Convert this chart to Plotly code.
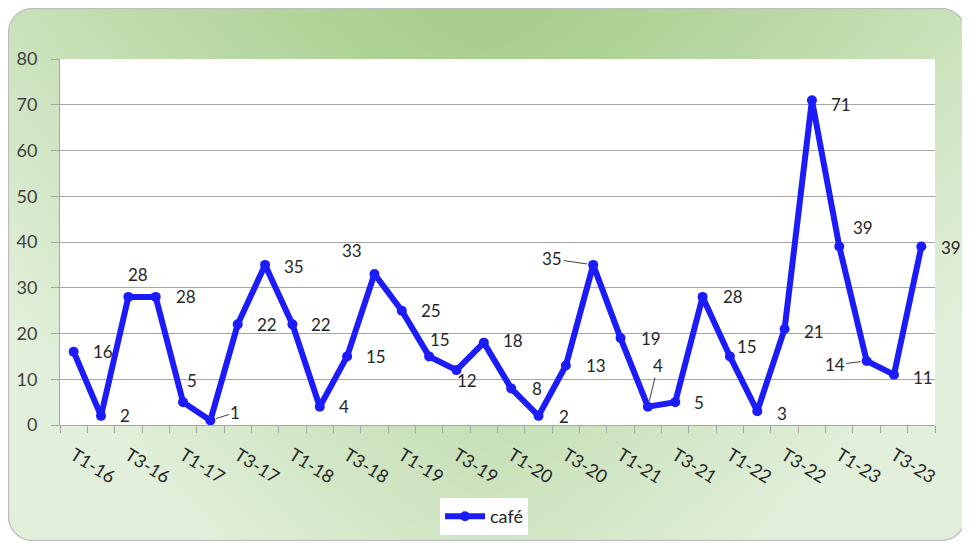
import base64
import struct
import zlib

import numpy as np
import plotly.graph_objects as go

# ---------------- data ----------------
quarters = []
for yr in range(16, 24):
    for q in range(1, 5):
        quarters.append(f"T{q}-{yr}")
categories = quarters  # T1-16 ... T4-23 (32 quarters)

cafe_values = [16, 2, 28, 28, 5, 1, 22, 35, 22, 4, 15, 33, 25, 15, 12, 18,
               8, 2, 13, 35, 19, 4, 5, 28, 15, 3, 21, 71, 39, 14, 11, 39]

tick_labels = [c if i % 2 == 0 else "" for i, c in enumerate(categories)]
series_name = "café"

# label placement (pixel offsets of data labels from their points) and leader-line flags
label_offsets = [(29, 0), (24, 0), (10, -22), (30, 0), (9, -22), (25, -8), (29, 0), (29, 2),
                 (29, 0), (24, 0), (29, 0), (-22, -24), (29, 0), (11, -17), (11, 10), (29, -2),
                 (26, 0), (25, 1), (30, 0), (-41, -6), (30, 0), (10, -41), (24, 0), (30, 0),
                 (17, -10), (25, 2), (29, 3), (29, 4), (24, -19), (-32, 4), (29, 3), (30, 1)]
leader_lines = [False] * 32
for k in (5, 19, 21, 29):
    leader_lines[k] = True

# ---------------- geometry / style ----------------
OFF = 8                      # page body margin of the browser
W, H = 970 - OFF, 543 - OFF  # figure size
ML, MR, MT, MB = 52, 35, 51, 118
FONT = "Lato"
BLUE = "#1c1cfb"
GRID = "#a6a6a6"
TXT = "#404040"
LBL = "#262626"


def background_uri():
    yy, xx = np.mgrid[0:H, 0:W].astype(float)
    X = (xx + OFF) / 970.0
    Y = (yy + OFF) / 543.0
    t = -0.04 + 0.74 * Y + 0.63 * np.abs(2 * X - 1) ** 1.3
    t = np.clip(t, 0, 1)[..., None]
    dark = np.array([168, 207, 141], float)
    light = np.array([226, 240, 219], float)
    rgb = dark + (light - dark) * t
    # white plot area
    inside = ((xx >= ML) & (xx < W - MR) & (yy >= MT) & (yy < H - MB))[..., None]
    rgb = np.where(inside, 255.0, rgb)
    # rounded rectangle signed distance
    x0, y0, x1, y1, r = 0.5, 0.5, 957.5, 532.5, 24.0
    cx, cy = (x0 + x1) / 2, (y0 + y1) / 2
    hx, hy = (x1 - x0) / 2 - r, (y1 - y0) / 2 - r
    qx = np.abs(xx + 0.5 - cx) - hx
    qy = np.abs(yy + 0.5 - cy) - hy
    d = np.sqrt(np.maximum(qx, 0) ** 2 + np.maximum(qy, 0) ** 2) + np.minimum(np.maximum(qx, qy), 0) - r
    fill_a = np.clip(0.5 - d, 0, 1)
    border = np.clip(1.2 - np.abs(d), 0, 1)[..., None]
    bcol = np.array([190, 190, 190], float)
    rgb = rgb * (1 - border) + bcol * border
    alpha = np.maximum(fill_a, border[..., 0])
    rgba = np.dstack([rgb, alpha[..., None] * 255]).clip(0, 255).astype(np.uint8)
    raw = b"".join(b"\x00" + rgba[i].tobytes() for i in range(H))

    def chunk(tag, data):
        return struct.pack(">I", len(data)) + tag + data + struct.pack(">I", zlib.crc32(tag + data) & 0xFFFFFFFF)

    png = (b"\x89PNG\r\n\x1a\n"
           + chunk(b"IHDR", struct.pack(">IIBBBBB", W, H, 8, 6, 0, 0, 0))
           + chunk(b"IDAT", zlib.compress(raw, 9))
           + chunk(b"IEND", b""))
    return "data:image/png;base64," + base64.b64encode(png).decode()


fig = go.Figure()
fig.add_trace(go.Scatter(
    x=categories, y=cafe_values, mode="lines+markers", name=series_name,
    line=dict(color=BLUE, width=6), marker=dict(color=BLUE, size=10),
    cliponaxis=False,
))

annotations = []
for i, (c, v) in enumerate(zip(categories, cafe_values)):
    dx, dy = label_offsets[i]
    annotations.append(dict(
        x=c, y=v, xref="x", yref="y", text=str(v), showarrow=True,
        ax=dx, ay=dy, arrowhead=0, arrowwidth=1,
        arrowcolor=TXT if leader_lines[i] else "rgba(0,0,0,0)",
        standoff=6 if leader_lines[i] else 0,
        font=dict(family=FONT, size=17, color=LBL),
    ))

fig.update_layout(
    width=W, height=H, autosize=False,
    margin=dict(l=ML, r=MR, t=MT, b=MB, pad=0, autoexpand=False),
    paper_bgcolor="rgba(0,0,0,0)", plot_bgcolor="white",
    font=dict(family=FONT, size=17, color=TXT),
    showlegend=True,
    legend=dict(orientation="h", xref="container", yref="container",
                x=432 / W, y=1 - 490 / H,
                xanchor="left", yanchor="top", bgcolor="white",
                font=dict(family=FONT, size=18, color=LBL),
                itemwidth=40),
    annotations=annotations,
    images=[dict(source=background_uri(), xref="paper", yref="paper",
                 x=-ML / (W - ML - MR), y=1 + MT / (H - MT - MB),
                 sizex=W / (W - ML - MR), sizey=H / (H - MT - MB),
                 xanchor="left", yanchor="top", sizing="stretch", layer="below")],
    xaxis=dict(type="category", categoryorder="array", categoryarray=categories,
               range=[-0.5, len(categories) - 0.5],
               tickmode="array", tickvals=categories, ticktext=tick_labels,
               tickson="boundaries", ticks="outside", ticklen=7, tickcolor=GRID,
               showline=True, linecolor=GRID, linewidth=1, showgrid=False,
               tickangle=32, ticklabelstandoff=12,
               tickfont=dict(family=FONT, size=18, color=LBL)),
    yaxis=dict(range=[0, 80], dtick=10, showgrid=True, gridcolor=GRID, gridwidth=1,
               showline=True, linecolor=GRID, linewidth=1, zeroline=False,
               ticks="outside", ticklen=8, tickcolor=GRID, ticklabelstandoff=10,
               tickfont=dict(family=FONT, size=18, color=TXT)),
)

fig.write_html("out.html")
